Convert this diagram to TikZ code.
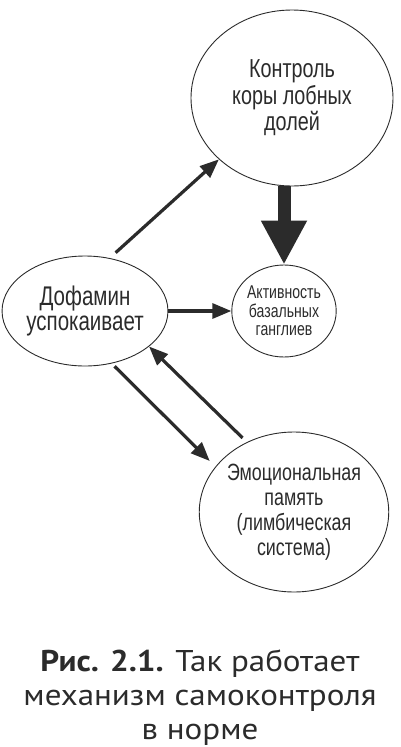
\documentclass[tikz,border=0pt]{standalone}
\usepackage{fontspec}
\setmainfont[FakeStretch=1.1]{PT Sans}
\newfontfamily\narrowfont[FakeStretch=0.76]{Liberation Sans}
\usetikzlibrary{shapes.geometric,arrows.meta}
\definecolor{ink}{HTML}{2B2B2B}
\tikzset{
  bubble/.style={draw=ink, line width=0.9pt, ellipse, inner sep=0pt, align=center, text=ink},
  arrowline/.style={draw=ink, line width=3.2pt, -{Triangle[length=19pt,width=15pt]}},
  bigarrow/.style={draw=ink, line width=13pt, -{Triangle[length=44pt,width=43pt]}},
}
\begin{document}
\begin{tikzpicture}[x=1pt,y=-1pt]
    \useasboundingbox (0,0) rectangle (400,747);

    %% circles
    \node[bubble, minimum width=202pt, minimum height=176pt,
          font=\narrowfont\fontsize{26}{26.5}\selectfont] (ctrl) at (292,98) {Контроль\\коры лобных\\долей};
    \node[bubble, minimum width=156pt, minimum height=110pt,
          font=\narrowfont\fontsize{27}{25}\selectfont] (dopa) at (85,311) {Дофамин\\успокаивает};
    \node[bubble, minimum width=90pt, minimum height=92pt,
          font=\narrowfont\fontsize{18.5}{18.5}\selectfont] (bg) at (284,311) {Активность\\базальных\\ганглиев};
    \node[bubble, minimum width=168pt, minimum height=160pt,
          font=\narrowfont\fontsize{23.5}{25}\selectfont] (emo) at (294,512) {Эмоциональная\\память\\(лимбическая\\система)};

    %% arrows
    \draw[bigarrow] (ctrl.south -| bg.north) -- (bg.north);
    \draw[arrowline, shorten <=8pt] (dopa.65) -- (ctrl.220);
    \draw[arrowline] (dopa.east) -- (dopa.east -| bg.west);
    \draw[arrowline, shorten <=4pt, shorten >=8pt] (dopa.297) -- (emo.150);
    \draw[arrowline, shorten <=6pt] (emo.124) -- (dopa.331);

    %% caption
    \node[font=\fontsize{30}{34}\selectfont, align=center, text=ink] (caption) at (200,698)
        {\textbf{Рис. 2.1.} Так работает\\механизм самоконтроля\\в норме};
\end{tikzpicture}
\end{document}
